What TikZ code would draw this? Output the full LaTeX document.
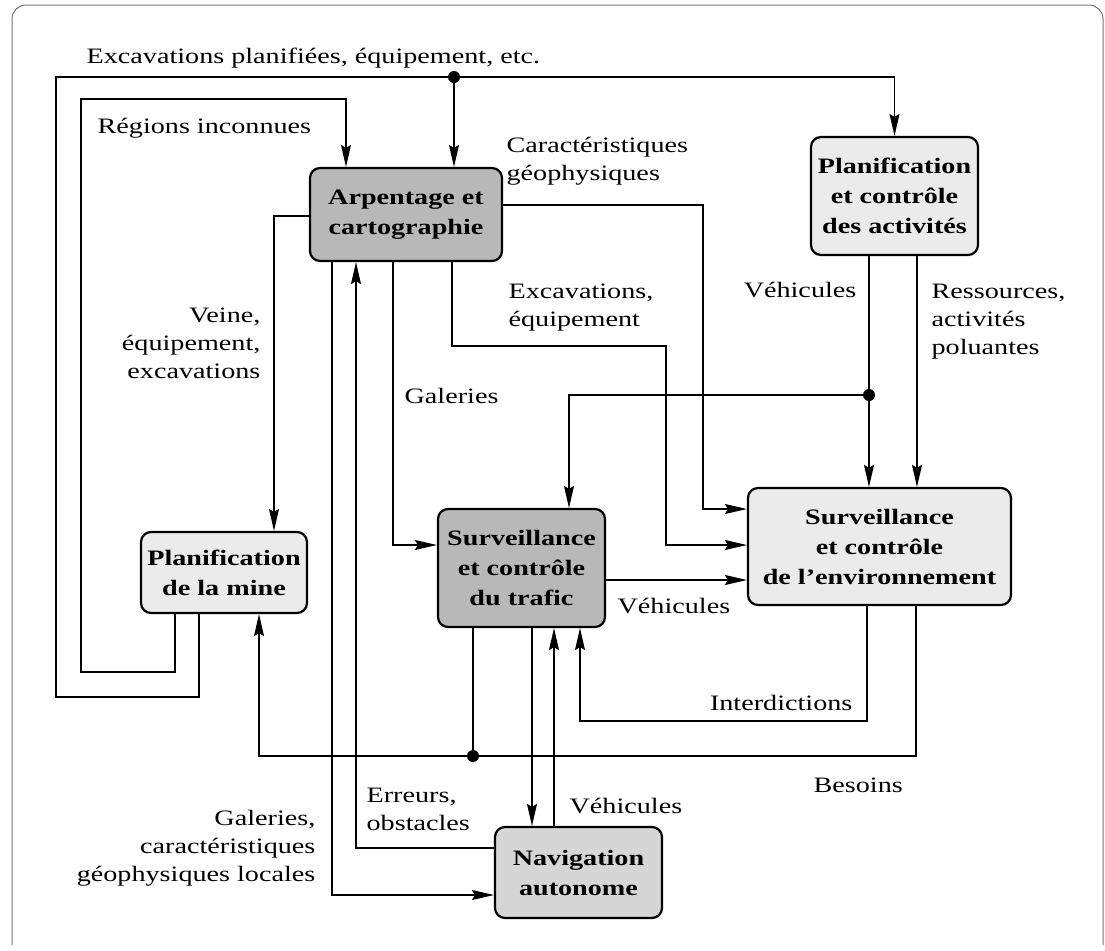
\documentclass[tikz,border=0pt]{standalone}
\usepackage{fontspec}
\setmainfont{Liberation Serif}[FakeStretch=1.28]
\usetikzlibrary{arrows.meta}
\tikzset{
  arr/.style={-{Stealth[length=11pt,width=5pt,inset=1.5pt]}},
  outerframe/.style={draw=black!55, line width=0.5pt, rounded corners=7pt},
  box/.style={draw, line width=1.1pt, rounded corners=5pt, align=center,
    font=\fontsize{11}{15}\selectfont\bfseries, inner sep=2pt},
  lab/.style={align=left},
  dotmark/.style={fill=black}
}
\begin{document}
\begin{tikzpicture}[x=0.5pt,y=-0.5pt, line width=0.65pt,
  every node/.style={font=\fontsize{11}{14}\selectfont, inner sep=0pt}]
\useasboundingbox (0,0) rectangle (1105,950);
\draw[outerframe] (12,945) -- (12,5) -- (1103,5) -- (1103,945);

% boxes
\node[box, fill=black!28, minimum width=96pt, minimum height=46.5pt] (arp) at (406,214.5) {Arpentage et\\cartographie};
\node[box, fill=black!8, minimum width=83.5pt, minimum height=59pt] (act) at (894.5,196) {Planification\\et contrôle\\des activités};
\node[box, fill=black!8, minimum width=83pt, minimum height=40.5pt] (mine) at (224,572.5) {Planification\\de la mine};
\node[box, fill=black!28, minimum width=83.5pt, minimum height=59pt] (traf) at (521.5,568) {Surveillance\\et contrôle\\du trafic};
\node[box, fill=black!8, minimum width=131.5pt, minimum height=58.5pt] (env) at (879.5,546.5) {Surveillance\\et contrôle\\de l'environnement};
\node[box, fill=black!16, minimum width=83.5pt, minimum height=45.5pt] (nav) at (578.5,872.5) {Navigation\\autonome};

% junctions
\coordinate (d1) at (454,77);
\coordinate (d2) at (869,395);
\coordinate (d3) at (473,756);

% connectors
\draw[arr] (mine.south -| 199,0) |- (56,697) -- (56,77) -| (act.north);
\draw[arr] (d1) -- (arp.north -| d1);
\draw[arr] (mine.south -| 175,0) |- (81,672) -- (81,99) -| (arp.north -| 346,0);
\draw[arr] (arp.west |- 0,216) -| (mine.north -| 274,0);
\draw[arr] (arp.east |- 0,205) -| (703,509) -- (env.west |- 0,509);
\draw[arr] (arp.south -| 452,0) |- (666,346) |- (env.west |- 0,545);
\draw[arr] (arp.south -| 393,0) |- (traf.west |- 0,545);
\draw[arr] (nav.west |- 0,848) -| (arp.south -| 356,0);
\draw[arr] (arp.south -| 332,0) |- (nav.west |- 0,895);
\draw[arr] (act.south -| 869,0) -- (env.north -| 869,0);
\draw[arr] (d2) -| (traf.north -| 569,0);
\draw[arr] (act.south -| 917,0) -- (env.north -| 917,0);
\draw[arr] (traf.east |- 0,580) -- (env.west |- 0,580);
\draw[arr] (env.south -| 867,0) |- (580,721) -- (traf.south -| 580,0);
\draw[arr] (env.south -| 916,0) |- (259,756) -- (mine.south -| 259,0);
\draw (traf.south -| 473,0) -- (d3);
\draw[arr] (traf.south -| 532,0) -- (nav.north -| 532,0);
\draw[arr] (nav.north -| 554,0) -- (traf.south -| 554,0);

\fill[dotmark] (d1) circle[radius=3pt];
\fill[dotmark] (d2) circle[radius=3pt];
\fill[dotmark] (d3) circle[radius=3pt];

% labels
\node[anchor=base west] (t1) at (86,63) {Excavations planifiées, équipement, etc.};
\node[anchor=base west] (t2) at (97,133) {Régions inconnues};
\node[lab, anchor=north west] (t3) at (506,137) {Caractéristiques\\géophysiques};
\node[align=right, anchor=north east] (t4) at (261,307) {Veine,\\équipement,\\excavations};
\node[lab, anchor=north west] (t5) at (508,283) {Excavations,\\équipement};
\node[anchor=base west] (t6) at (404,403) {Galeries};
\node[anchor=base east] (t7) at (857,297) {Véhicules};
\node[lab, anchor=north west] (t8) at (931,283) {Ressources,\\activités\\poluantes};
\node[anchor=base west] (t9) at (617,613) {Véhicules};
\node[anchor=base east] (t10) at (853,710) {Interdictions};
\node[anchor=base west] (t11) at (813,792) {Besoins};
\node[align=right, anchor=north east] (t12) at (316,810) {Galeries,\\caractéristiques\\géophysiques locales};
\node[lab, anchor=north west] (t13) at (366,787) {Erreurs,\\obstacles};
\node[anchor=base west] (t14) at (569,813) {Véhicules};
\end{tikzpicture}
\end{document}
